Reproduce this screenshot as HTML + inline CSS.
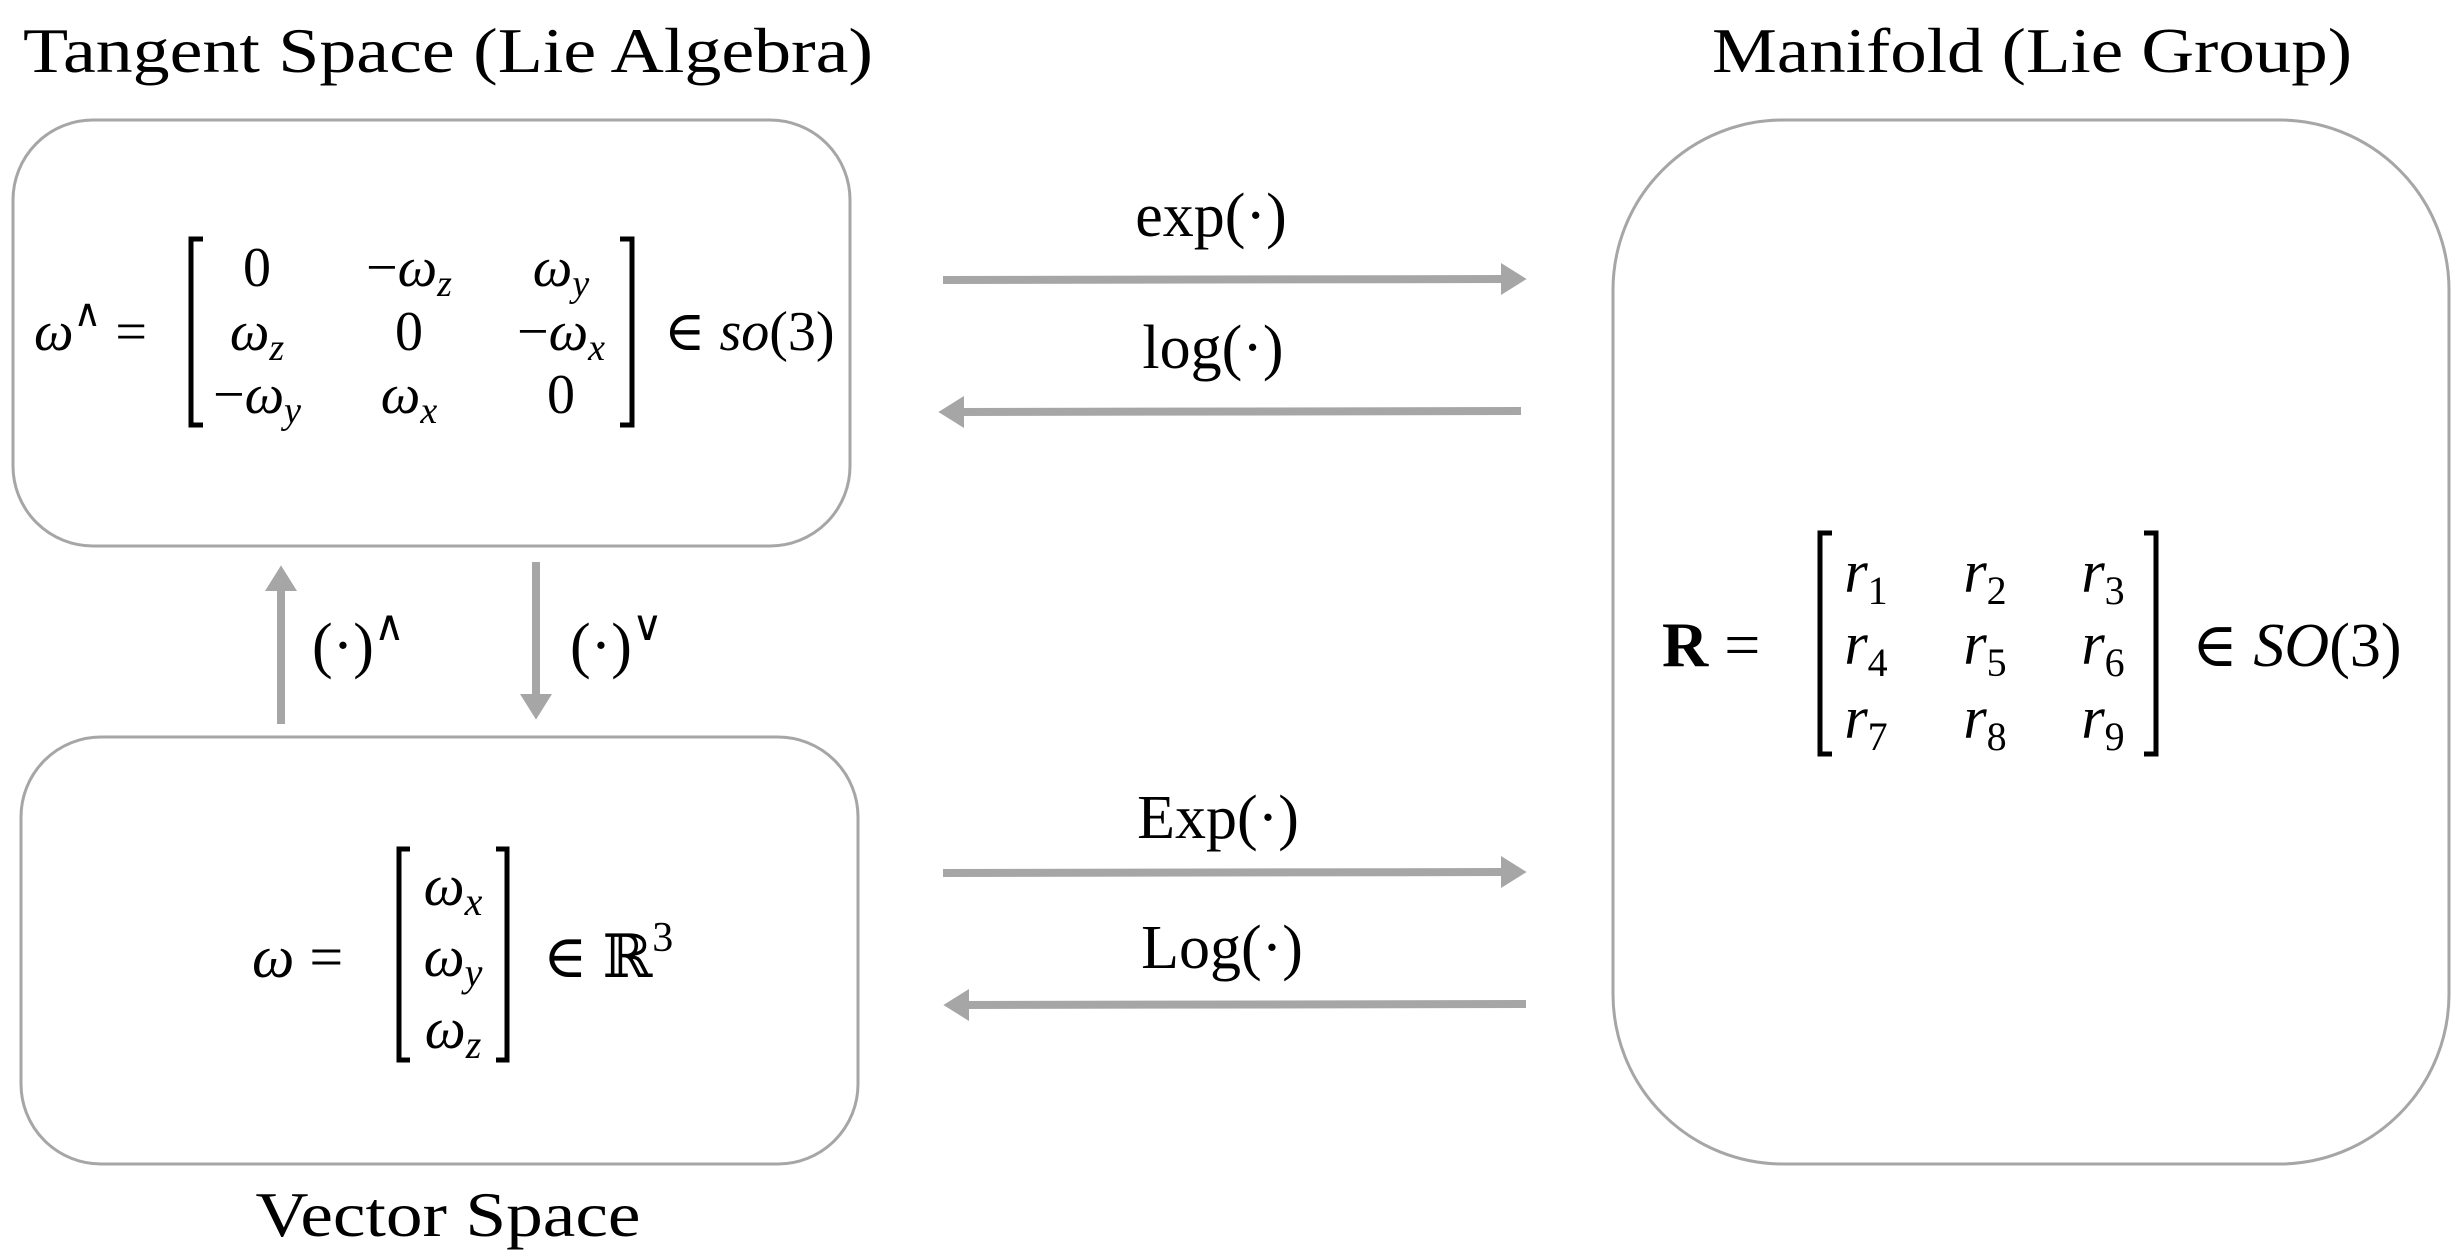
<!DOCTYPE html>
<html><head><meta charset="utf-8"><style>
html,body{margin:0;padding:0;background:#fff;}
svg{display:block;}
text{font-family:"Liberation Serif","DejaVu Serif",serif;fill:#000;}
.i{font-style:italic;}
</style></head><body>
<svg width="2464" height="1250" viewBox="0 0 2464 1250" xmlns="http://www.w3.org/2000/svg">
<defs>
<marker id="ah" markerWidth="4" markerHeight="4" refX="0.5" refY="2" orient="auto" markerUnits="strokeWidth">
<path d="M0,0 L3.2,2 L0,4 Z" fill="#a6a6a6"/>
</marker>
</defs>
<!-- titles -->
<text x="448" y="72" font-size="64" text-anchor="middle" textLength="850" lengthAdjust="spacingAndGlyphs">Tangent Space (Lie Algebra)</text>
<text x="2032" y="72" font-size="64" text-anchor="middle" textLength="640" lengthAdjust="spacingAndGlyphs">Manifold (Lie Group)</text>
<text x="448" y="1236" font-size="64" text-anchor="middle" textLength="385" lengthAdjust="spacingAndGlyphs">Vector Space</text>

<!-- boxes -->
<rect x="13" y="120" width="837" height="426" rx="80" fill="none" stroke="#a6a6a6" stroke-width="3"/>
<rect x="21" y="737" width="837" height="427" rx="80" fill="none" stroke="#a6a6a6" stroke-width="3"/>
<rect x="1613" y="120" width="836" height="1044" rx="170" fill="none" stroke="#a6a6a6" stroke-width="3"/>

<!-- horizontal arrows -->
<g stroke="#a6a6a6" stroke-width="8" fill="none">
<line x1="943" y1="280" x2="1505" y2="279" marker-end="url(#ah)"/>
<line x1="1521" y1="411" x2="960" y2="412" marker-end="url(#ah)"/>
<line x1="943" y1="873" x2="1505" y2="872" marker-end="url(#ah)"/>
<line x1="1526" y1="1004" x2="965" y2="1005" marker-end="url(#ah)"/>
<line x1="281" y1="724" x2="281" y2="587" marker-end="url(#ah)"/>
<line x1="536" y1="562" x2="536" y2="698" marker-end="url(#ah)"/>
</g>
<text x="1211" y="236" font-size="62" text-anchor="middle">exp(·)</text>
<text x="1213" y="368" font-size="62" text-anchor="middle">log(·)</text>
<text x="1218" y="838" font-size="62" text-anchor="middle">Exp(·)</text>
<text x="1222" y="968" font-size="62" text-anchor="middle">Log(·)</text>
<text x="312" y="666" font-size="62">(·)<tspan font-size="42" dy="-26">∧</tspan></text>
<text x="570" y="666" font-size="62">(·)<tspan font-size="42" dy="-26">∨</tspan></text>

<!-- matrix 1 -->
<text x="34" y="350" font-size="56" class="i">ω<tspan font-size="38" dy="-24" font-style="normal">∧</tspan><tspan font-size="56" dy="24" font-style="normal"> =</tspan></text>
<g fill="none" stroke="#000" stroke-width="5">
<path d="M203,239 H191 V425 H203"/>
<path d="M620,239 H632 V425 H620"/>
</g>
<g font-size="56" text-anchor="middle">
<text x="257" y="286">0</text>
<text x="409" y="286">−<tspan class="i">ω</tspan><tspan class="i" font-size="38" dy="10">z</tspan></text>
<text x="561" y="286" class="i">ω<tspan font-size="38" dy="10">y</tspan></text>
<text x="257" y="350" class="i">ω<tspan font-size="38" dy="10">z</tspan></text>
<text x="409" y="350">0</text>
<text x="561" y="350">−<tspan class="i">ω</tspan><tspan class="i" font-size="38" dy="10">x</tspan></text>
<text x="257" y="413">−<tspan class="i">ω</tspan><tspan class="i" font-size="38" dy="10">y</tspan></text>
<text x="409" y="413" class="i">ω<tspan font-size="38" dy="10">x</tspan></text>
<text x="561" y="413">0</text>
</g>
<text x="664" y="350" font-size="56">∈ <tspan class="i">so</tspan>(3)</text>

<!-- vector -->
<text x="252" y="977" font-size="60"><tspan class="i">ω</tspan> =</text>
<g fill="none" stroke="#000" stroke-width="5">
<path d="M410,849 H399 V1060 H410"/>
<path d="M496,849 H507 V1060 H496"/>
</g>
<g font-size="58" text-anchor="middle" class="i">
<text x="453" y="905">ω<tspan font-size="40" dy="10">x</tspan></text>
<text x="453" y="976">ω<tspan font-size="40" dy="10">y</tspan></text>
<text x="453" y="1048">ω<tspan font-size="40" dy="10">z</tspan></text>
</g>
<text x="543" y="977" font-size="60">∈ ℝ<tspan font-size="42" dy="-26">3</tspan></text>

<!-- R matrix -->
<text x="1662" y="666" font-size="64"><tspan font-weight="bold">R</tspan> =</text>
<g fill="none" stroke="#000" stroke-width="5">
<path d="M1832,533 H1820 V754 H1832"/>
<path d="M2144,533 H2156 V754 H2144"/>
</g>
<g font-size="60" text-anchor="middle" class="i">
<text x="1866" y="592">r<tspan font-size="40" dy="12" font-style="normal">1</tspan></text>
<text x="1985" y="592">r<tspan font-size="40" dy="12" font-style="normal">2</tspan></text>
<text x="2103" y="592">r<tspan font-size="40" dy="12" font-style="normal">3</tspan></text>
<text x="1866" y="664">r<tspan font-size="40" dy="12" font-style="normal">4</tspan></text>
<text x="1985" y="664">r<tspan font-size="40" dy="12" font-style="normal">5</tspan></text>
<text x="2103" y="664">r<tspan font-size="40" dy="12" font-style="normal">6</tspan></text>
<text x="1866" y="738">r<tspan font-size="40" dy="12" font-style="normal">7</tspan></text>
<text x="1985" y="738">r<tspan font-size="40" dy="12" font-style="normal">8</tspan></text>
<text x="2103" y="738">r<tspan font-size="40" dy="12" font-style="normal">9</tspan></text>
</g>
<text x="2192" y="666" font-size="62">∈ <tspan class="i">SO</tspan>(3)</text>
</svg>
</body></html>
